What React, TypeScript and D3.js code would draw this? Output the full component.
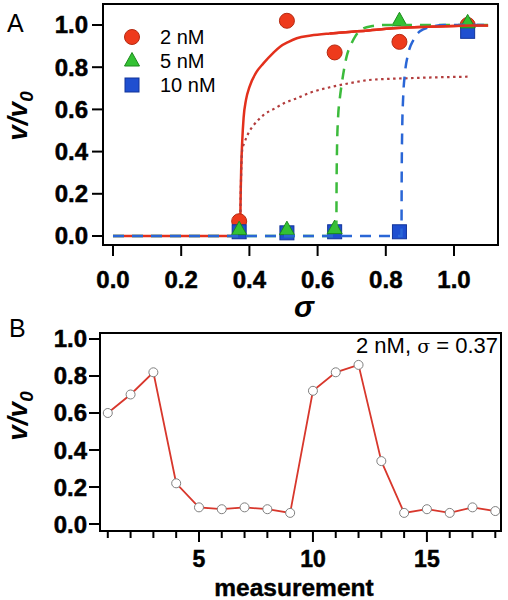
import React from "react";
import * as d3 from "d3";

// ---------- Panel A data ----------
const sigmaTicks = [0, 0.2, 0.4, 0.6, 0.8, 1.0];
const vTicks = [0, 0.2, 0.4, 0.6, 0.8, 1.0];

const sigma2nM = [0.37, 0.51, 0.65, 0.84, 1.04];
const v2nM = [0.07, 1.02, 0.87, 0.92, 1.0];
const sigma5nM = [0.37, 0.51, 0.65, 0.84, 1.04];
const v5nM = [0.03, 0.03, 0.035, 1.02, 1.01];
const sigma10nM = [0.37, 0.51, 0.65, 0.84, 1.04];
const v10nM = [0.02, 0.015, 0.02, 0.02, 0.97];

// fitted curves
const redSolidS = [0, 0.373, 0.374, 0.376, 0.379, 0.383, 0.39, 0.4, 0.42, 0.441, 0.47, 0.49, 0.515, 0.539, 0.58, 0.636, 0.7, 0.734, 0.822, 0.9, 1.018, 1.1];
const redSolidV = [0, 0, 0.15, 0.32, 0.45, 0.56, 0.645, 0.705, 0.775, 0.818, 0.868, 0.897, 0.92, 0.937, 0.95, 0.96, 0.968, 0.972, 0.984, 0.99, 0.997, 0.998];
const redDotS = [0.373, 0.374, 0.376, 0.379, 0.385, 0.397, 0.41, 0.426, 0.441, 0.475, 0.5, 0.539, 0.58, 0.636, 0.69, 0.749, 0.8, 0.851, 0.95, 1.045];
const redDotV = [0, 0.15, 0.3, 0.41, 0.44, 0.487, 0.52, 0.55, 0.573, 0.605, 0.628, 0.653, 0.68, 0.705, 0.723, 0.739, 0.744, 0.747, 0.752, 0.755];
const greenS = [0, 0.655, 0.6555, 0.657, 0.66, 0.665, 0.671, 0.685, 0.7, 0.71, 0.734, 0.76, 0.8, 1.1];
const greenV = [0, 0, 0.2, 0.42, 0.56, 0.65, 0.723, 0.85, 0.915, 0.945, 0.984, 0.995, 1.0, 1.0];
const blueS = [0, 0.846, 0.8465, 0.848, 0.851, 0.856, 0.865, 0.881, 0.9, 0.93, 0.97, 1.1];
const blueV = [0, 0, 0.25, 0.5, 0.66, 0.77, 0.86, 0.929, 0.97, 0.99, 1.0, 1.0];

const legendLabels = ["2 nM", "5 nM", "10 nM"];

// ---------- Panel B data ----------
const measurement = [1, 2, 3, 4, 5, 6, 7, 8, 9, 10, 11, 12, 13, 14, 15, 16, 17, 18];
const vMeas = [0.6, 0.7, 0.82, 0.22, 0.09, 0.08, 0.09, 0.08, 0.06, 0.72, 0.82, 0.86, 0.34, 0.06, 0.08, 0.06, 0.09, 0.07];
const measMajorTicks = [5, 10, 15];
const bTicks = [0, 0.2, 0.4, 0.6, 0.8, 1.0];

const RED = "#ee3a1c";
const RED_DARK = "#b52a12";
const GREEN = "#33c233";
const GREEN_DARK = "#1c8a1c";
const BLUE = "#1f4fd0";
const BLUE_DARK = "#12349a";
const LINE_RED = "#e3301c";
const DOT_RED = "#b23c3c";
const DASH_GREEN = "#3cbb3c";
const DASH_BLUE = "#2a66d6";

const FONT = "'Liberation Sans', Arial, sans-serif";
const tickFont: React.CSSProperties = { fontFamily: FONT, fontWeight: "bold", fontSize: 24 };

function Circle({ x, y }: { x: number; y: number }) {
  return <circle cx={x} cy={y} r={7.5} fill={RED} stroke={RED_DARK} strokeWidth={1} />;
}
function Tri({ x, y }: { x: number; y: number }) {
  const p = `${x},${y - 8.5} ${x - 7.5},${y + 5} ${x + 7.5},${y + 5}`;
  return <polygon points={p} fill={GREEN} stroke={GREEN_DARK} strokeWidth={1} />;
}
function Sq({ x, y }: { x: number; y: number }) {
  return <rect x={x - 7} y={y - 7} width={14} height={14} fill={BLUE} stroke={BLUE_DARK} strokeWidth={1} />;
}

export default function App() {
  // Panel A scales
  const xA = d3.scaleLinear().domain([-0.0293, 1.129]).range([103, 498]);
  const yA = d3.scaleLinear().domain([-0.0427, 1.0995]).range([245, 4]);
  const mk = (s: number[], v: number[]) => s.map((d, i) => [d, v[i]] as [number, number]);
  const lineA = d3
    .line<[number, number]>()
    .x((d) => xA(d[0]))
    .y((d) => yA(d[1]))
    .curve(d3.curveMonotoneX);

  // Panel B scales
  const xB = d3.scaleLinear().domain([0.658, 18.25]).range([100, 501]);
  const yB = d3.scaleLinear().domain([-0.0378, 1.0324]).range([531, 333]);
  const lineB = d3
    .line<number>()
    .x((d, i) => xB(measurement[i]))
    .y((d) => yB(d));

  const minorB = d3.range(1, 19);

  return (
    <svg width={508} height={600} style={{ position: "absolute", left: 0, top: 0 }}>
      <rect width={508} height={600} fill="white" />
      {/* ---------- Panel A ---------- */}
      <text x={7} y={32} style={{ fontFamily: FONT, fontSize: 25 }}>A</text>

      {/* lines */}
      <path d={lineA(mk(redSolidS, redSolidV)) || ""} fill="none" stroke={LINE_RED} strokeWidth={2.5} />
      <path d={lineA(mk(redDotS, redDotV)) || ""} fill="none" stroke={DOT_RED} strokeWidth={2.2} strokeDasharray="2.5,3.5" />
      {/* markers */}
      {sigma2nM.map((s, i) => (
        <Circle key={"c" + i} x={xA(s)} y={yA(v2nM[i])} />
      ))}
      {sigma10nM.map((s, i) => (
        <Sq key={"s" + i} x={xA(s)} y={yA(v10nM[i])} />
      ))}
      {sigma5nM.map((s, i) => (
        <Tri key={"t" + i} x={xA(s)} y={yA(v5nM[i])} />
      ))}
      <path d={lineA(mk(greenS, greenV)) || ""} fill="none" stroke={DASH_GREEN} strokeWidth={2.5} strokeDasharray="11,8" />
      <path d={lineA(mk(blueS, blueV)) || ""} fill="none" stroke={DASH_BLUE} strokeWidth={2.5} strokeDasharray="11,8" />
      <path
        d={lineA(mk(redSolidS, redSolidV).filter((d) => d[0] >= 0.6)) || ""}
        fill="none"
        stroke={LINE_RED}
        strokeWidth={2.5}
      />

      {/* frame */}
      <rect x={103} y={4} width={395} height={241} fill="none" stroke="black" strokeWidth={2} />
      {/* y ticks */}
      {vTicks.map((t) => (
        <g key={"ya" + t}>
          <line x1={92} x2={103} y1={yA(t)} y2={yA(t)} stroke="black" strokeWidth={2} />
          <text x={88} y={yA(t)} dy={8.5} textAnchor="end" style={tickFont} stroke="black" strokeWidth={0.5}>
            {d3.format(".1f")(t)}
          </text>
        </g>
      ))}
      {/* x ticks */}
      {sigmaTicks.map((t) => (
        <g key={"xa" + t}>
          <line x1={xA(t)} x2={xA(t)} y1={245} y2={256} stroke="black" strokeWidth={2} />
          <text x={xA(t)} y={288} textAnchor="middle" style={tickFont} stroke="black" strokeWidth={0.5}>
            {d3.format(".1f")(t)}
          </text>
        </g>
      ))}
      <text
        x={304}
        y={317}
        textAnchor="middle"
        style={{ fontFamily: FONT, fontWeight: "bold", fontStyle: "italic", fontSize: 30 }}
      >
        σ
      </text>
      <text
        transform="translate(27,116) rotate(-90)"
        textAnchor="middle"
        style={{ fontFamily: FONT, fontWeight: "bold", fontStyle: "italic", fontSize: 28 }}
      >
        v/v<tspan dy={6} fontSize={19}>0</tspan>
      </text>

      {/* legend */}
      <Circle x={132} y={37} />
      <Tri x={132} y={61} />
      <Sq x={132} y={85} />
      {legendLabels.map((l, i) => (
        <text key={l} x={160} y={43.5 + i * 24} style={{ fontFamily: FONT, fontSize: 20 }}>
          {l}
        </text>
      ))}

      {/* ---------- Panel B ---------- */}
      <text x={9} y={337} style={{ fontFamily: FONT, fontSize: 25 }}>B</text>
      <path d={lineB(vMeas) || ""} fill="none" stroke="#d8372c" strokeWidth={1.8} />
      {vMeas.map((v, i) => (
        <circle key={"b" + i} cx={xB(measurement[i])} cy={yB(v)} r={4.5} fill="white" stroke="#808080" strokeWidth={1} />
      ))}
      <rect x={100} y={333} width={401} height={198} fill="none" stroke="black" strokeWidth={2} />
      {bTicks.map((t) => (
        <g key={"yb" + t}>
          <line x1={89} x2={100} y1={yB(t)} y2={yB(t)} stroke="black" strokeWidth={2} />
          <text x={87} y={yB(t)} dy={8.5} textAnchor="end" style={tickFont} stroke="black" strokeWidth={0.5}>
            {d3.format(".1f")(t)}
          </text>
        </g>
      ))}
      {minorB.map((t) => (
        <line
          key={"mb" + t}
          x1={xB(t)}
          x2={xB(t)}
          y1={531}
          y2={measMajorTicks.includes(t) ? 542 : 538}
          stroke="black"
          strokeWidth={2}
        />
      ))}
      {measMajorTicks.map((t) => (
        <text
          key={"xbl" + t}
          x={xB(t)}
          y={567}
          textAnchor="middle"
          style={{ ...tickFont, fontSize: 23 }}
          stroke="black"
          strokeWidth={0.5}
        >
          {t}
        </text>
      ))}
      <text
        x={294}
        y={596}
        textAnchor="middle"
        style={{ fontFamily: FONT, fontWeight: "bold", fontSize: 24.5 }}
        stroke="black"
        strokeWidth={0.4}
      >
        measurement
      </text>
      <text
        transform="translate(27,416) rotate(-90)"
        textAnchor="middle"
        style={{ fontFamily: FONT, fontWeight: "bold", fontStyle: "italic", fontSize: 28 }}
      >
        v/v<tspan dy={6} fontSize={19}>0</tspan>
      </text>
      <text x={498} y={353} textAnchor="end" style={{ fontFamily: FONT, fontSize: 22 }}>
        2 nM, <tspan style={{ fontFamily: "'DejaVu Serif', serif" }} fontSize={19}>σ</tspan> = 0.37
      </text>
    </svg>
  );
}
